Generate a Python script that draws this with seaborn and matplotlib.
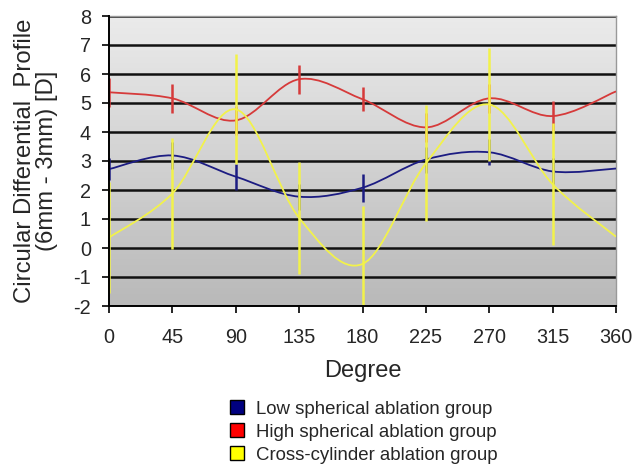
import numpy as np
import matplotlib
matplotlib.use("Agg")
import matplotlib.pyplot as plt
from matplotlib.path import Path
from matplotlib.patches import PathPatch, Patch, Rectangle
import seaborn as sns

degrees = [0, 45, 90, 135, 180, 225, 270, 315, 360]
low_vals = [2.72, 3.19, 2.46, 1.77, 2.08, 3.05, 3.30, 2.64, 2.74]
low_err = [0.38, 0.45, 0.45, 0.45, 0.48, 0.45, 0.45, 0.45, 0.0]
high_vals = [5.37, 5.16, 4.40, 5.82, 5.13, 4.16, 5.16, 4.55, 5.40]
high_err = [0.50, 0.50, 0.50, 0.50, 0.42, 0.50, 0.50, 0.52, 0.0]
cross_vals = [0.36, 1.88, 4.78, 1.04, -0.55, 2.92, 4.95, 2.20, 0.39]
cross_err = [1.92, 1.92, 1.90, 1.92, 2.00, 2.00, 1.95, 2.10, 0.0]
labels = ["Low spherical ablation group", "High spherical ablation group",
          "Cross-cylinder ablation group"]
line_colors = ["#1c1c82", "#d63a3a", "#f2f24a"]
legend_colors = ["#000080", "#ff0000", "#ffff00"]
yticks = list(range(-2, 9))
xticks = degrees

sns.set_style("white")
plt.rcParams["font.family"] = ["Liberation Sans", "DejaVu Sans"]

fig = plt.figure(figsize=(6.36, 4.68), dpi=100)
ax = fig.add_axes([109 / 636, 1 - 306 / 468, (616 - 109) / 636, (306 - 16) / 468])

# gradient background
grad = np.linspace(0, 1, 256).reshape(-1, 1)
ax.imshow(grad, extent=[0, 1, 0, 1], transform=ax.transAxes, aspect="auto",
          cmap=matplotlib.colors.LinearSegmentedColormap.from_list("g", ["#b9b9b9", "#ebebeb"]),
          origin="lower", zorder=0)

ax.set_xlim(0, 360)
ax.set_ylim(-2, 8)
for y in yticks:
    ax.axhline(y, color="#111111", lw=1.8, zorder=1)


def smooth_path(xs, ys):
    xs = np.asarray(xs, float)
    ys = np.asarray(ys, float)
    pts = np.column_stack([xs, ys])
    n = len(pts)
    verts = [pts[0]]
    codes = [Path.MOVETO]
    for i in range(n - 1):
        p0 = pts[i - 1] if i > 0 else pts[i]
        p1 = pts[i]
        p2 = pts[i + 1]
        p3 = pts[i + 2] if i + 2 < n else pts[i + 1]
        c1 = p1 + (p2 - p0) / 6.0
        c2 = p2 - (p3 - p1) / 6.0
        verts += [c1, c2, p2]
        codes += [Path.CURVE4] * 3
    return Path(verts, codes)


# clip region: full height of the axes, a little wider horizontally
clip_rect = Rectangle((-0.02, 0), 1.04, 1, transform=ax.transAxes,
                      facecolor="none", edgecolor="none")

series = [(low_vals, low_err), (high_vals, high_err), (cross_vals, cross_err)]
for k, (vals, errs) in enumerate(series):
    patch = PathPatch(smooth_path(degrees, vals), facecolor="none",
                      edgecolor=line_colors[k], lw=1.3, zorder=3 + k)
    ax.add_patch(patch)
    eb = ax.errorbar(degrees[:-1], vals[:-1], yerr=errs[:-1], fmt="none",
                     ecolor=line_colors[k], elinewidth=1.8, capsize=0, zorder=3 + k)
    for coll in eb.lines[2]:
        coll.set_clip_path(clip_rect)

ax.set_xticks(xticks)
ax.set_yticks(yticks)
ax.set_xticklabels([str(v) for v in xticks], fontsize=14.3)
ax.set_yticklabels([str(v) for v in yticks], fontsize=14.3)
ax.tick_params(axis="x", direction="out", length=5, width=1.2, pad=11, color="black", bottom=True)
ax.tick_params(axis="y", direction="out", length=5, width=1.2, pad=8, color="black", left=True)
for s in ["left", "bottom"]:
    ax.spines[s].set_color("black")
    ax.spines[s].set_linewidth(1.4)
    ax.spines[s].set_zorder(6)
for s in ["top", "right"]:
    ax.spines[s].set_color("#999999")
    ax.spines[s].set_linewidth(1.0)

ax.set_xlabel("Degree", fontsize=17, labelpad=9)
ax.set_ylabel("Circular Differential  Profile\n(6mm - 3mm) [D]", fontsize=17.2,
              labelpad=11, linespacing=1.02)

handles = [Patch(facecolor=c, edgecolor="black", lw=1.0) for c in legend_colors]
fig.legend(handles, labels, loc="center", bbox_to_anchor=(0.572, 0.077),
           frameon=False, fontsize=13.4, handlelength=0.75, handleheight=0.75,
           handletextpad=0.65, labelspacing=0.3, borderpad=0)

fig.savefig("out.png", dpi=100)
